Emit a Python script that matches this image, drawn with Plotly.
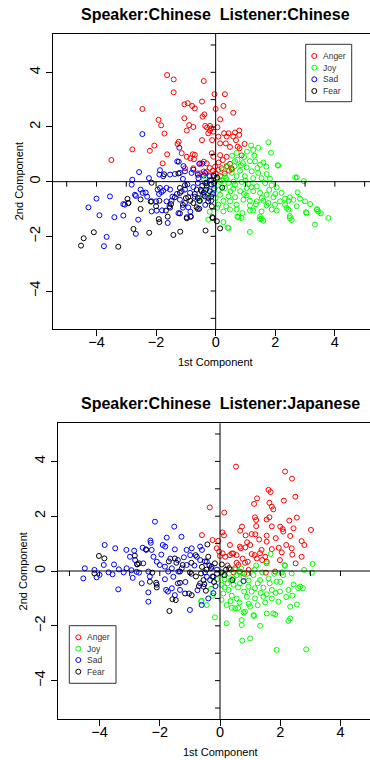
import plotly.graph_objects as go

W, H = 370, 760
FONT = "Liberation Sans, Arial, Helvetica, sans-serif"

categories = ["Anger", "Joy", "Sad", "Fear"]
colors = ["#FF0000", "#00FF00", "#0000FF", "#000000"]
titles = ["Speaker:Chinese\u00a0 Listener:Chinese", "Speaker:Chinese\u00a0 Listener:Japanese"]
x_title = "1st Component"
y_title = "2nd Component"
tick_values = [-4, -2, 0, 2, 4]
center_ticks = list(range(-5, 6))

# ---------------- Panel 1: Speaker Chinese / Listener Chinese ----------------
cc_anger = [(-1.63,3.90),(-1.41,3.74),(-0.40,3.68),(-1.41,3.27),(-0.04,3.20),(0.31,3.20),(-0.46,2.93),(-0.94,2.87),
(-1.05,2.83),(-0.79,2.77),(-0.70,2.68),(0.26,2.77),(-2.46,2.66),(0.00,2.66),(0.59,2.52),(-0.38,2.46),(-0.44,2.38),
(-1.05,2.32),(0.15,2.28),(-1.92,2.26),(-1.83,2.06),(-0.89,2.07),(-0.75,2.00),(-0.35,2.04),(-0.29,1.98),(-0.19,2.04),
(-0.15,1.95),(0.06,1.99),(-0.08,1.83),(-1.72,1.76),(-0.97,1.87),(-0.25,1.77),(-0.19,1.87),(0.28,1.77),(0.43,1.77),
(0.37,1.65),(0.65,1.80),(0.79,1.87),(0.79,1.71),(0.59,1.65),(0.09,1.65),(-0.46,1.52),(-0.12,1.52),(0.68,1.52),
(-2.80,1.18),(-2.06,1.32),(-2.21,1.13),(-1.24,1.46),(-1.28,1.38),(0.15,1.40),(0.34,1.40),(0.48,1.27),(0.74,1.28),
(0.80,1.22),(0.97,1.38),(-3.50,0.79),(-1.63,1.00),(-1.78,0.67),(-1.14,1.04),(-0.97,0.91),(-0.77,1.00),(-0.70,0.98),
(-0.73,0.82),(-0.85,0.85),(-1.03,0.49),(-0.75,0.49),(-0.52,0.67),(-0.40,0.73),(-0.30,0.67),(-0.13,1.04),(-0.08,0.91),
(0.15,0.97),(0.24,0.79),(0.37,0.91),(0.48,0.65),(0.37,0.57),(0.53,0.49),(0.87,0.96),(-0.30,0.37),(-0.08,0.24),
(-0.52,0.30),(-0.40,0.37),(0.09,0.43),(0.20,0.49),(-0.02,0.55),(0.55,0.45),(0.45,0.40),(0.00,0.30),(-0.20,0.50),
(-0.10,0.40),(0.10,0.70),(-0.60,0.30),(0.30,0.30),(0.15,0.20)]

cc_joy = [(0.73,0.80),(0.91,0.68),(1.32,0.74),(1.49,0.62),(2.08,0.60),(1.04,0.52),(0.63,0.56),
(0.82,0.40),(0.54,0.32),(1.21,0.38),(1.43,0.32),(1.71,0.28),(0.70,0.20),(0.98,0.20),(1.26,0.13),(1.54,0.13),
(0.31,0.20),(2.72,0.16),(1.82,0.11),(0.15,-0.01),(0.43,-0.05),(0.65,-0.11),(0.87,-0.01),(1.10,-0.09),(1.38,-0.17),
(1.66,-0.05),(1.88,-0.13),(2.05,-0.21),(1.04,-0.23),(0.59,-0.26),(0.31,-0.23),(0.82,-0.35),(1.26,-0.35),(1.49,-0.41),
(1.71,-0.48),(2.21,-0.41),(2.75,-0.39),(0.15,-0.48),(0.43,-0.54),(0.65,-0.57),(1.04,-0.50),(1.94,-0.57),(2.33,-0.62),
(2.49,-0.57),(0.26,-0.70),(0.48,-0.72),(0.93,-0.66),(1.15,-0.70),(1.38,-0.72),(1.60,-0.70),(1.77,-0.78),(2.16,-0.72),
(2.44,-0.70),(2.61,-0.66),(2.83,-0.62),(3.00,-0.72),(0.09,-0.84),(0.70,-0.84),(1.15,-0.87),(1.35,-0.82),(1.71,-0.87),
(1.99,-0.84),(2.33,-0.84),(2.72,-0.90),(3.17,-0.82),(0.26,-1.09),(0.48,-1.02),(0.70,-1.02),(1.15,-1.06),(1.26,-1.06),
(1.54,-1.09),(1.88,-1.02),(2.05,-1.06),(2.38,-0.96),(2.44,-1.02),(3.05,-1.15),(3.39,-1.02),(3.44,-1.09),(0.76,-1.30),
(0.87,-1.33),(1.49,-1.27),(1.54,-1.35),(1.60,-1.43),(2.49,-1.33),(2.55,-1.40),(3.78,-1.33),(3.33,-1.57),(-0.25,-1.39),
(0.26,-1.48),(0.43,-1.70),(1.15,-1.84),(0.55,0.95),(0.70,1.05),(0.95,0.90),(1.15,0.75),(1.30,0.95),(1.05,1.10),
(0.65,0.75),(0.40,0.55),(0.25,0.45),(1.60,0.70),(1.70,0.55),(1.40,0.50),(0.85,0.60),(0.05,0.10),(0.20,0.05),
(0.35,0.12),(-0.05,-0.15),(0.10,-0.30),(-0.15,-0.45),(0.00,-0.60),(-0.30,-0.20),(-0.40,0.10),(-0.55,-0.60),
(-0.20,-1.10),(0.05,-0.95),(1.19,1.32),(1.43,1.24),(1.77,1.44),(1.26,1.16),(1.86,1.06),(2.10,0.59),(2.67,0.15),
(2.96,0.02),(3.41,-1.01),(3.53,-1.16),(3.03,-1.12),(2.49,-1.26),(1.49,-1.37),(0.73,-1.28),(0.40,-1.68),
(0.50,-0.35),(0.95,-0.45),(1.20,-0.20),(1.80,-0.30),(0.35,-0.90),(0.60,0.00),(1.00,0.05),(1.55,-0.60),(2.00,-0.45),
(0.90,-1.15)]

cc_sad = [(-2.46,1.74),(-1.22,1.24),(-1.24,0.73),(-1.08,0.57),(-1.29,0.74),(-2.57,0.35),(-2.24,0.13),(-2.80,0.07),
(-2.82,-0.11),(-1.87,0.42),(-1.89,0.26),(-1.76,0.20),(-1.53,0.26),(-1.37,0.28),(-1.20,0.32),(-1.03,0.38),(-0.75,0.44),
(-0.81,0.32),(-0.55,0.65),(-0.45,0.66),(-0.60,0.25),(-0.40,0.22),(-0.35,0.32),(-0.58,0.13),(-0.20,0.05),(-0.15,-0.10),
(-0.30,-0.05),(-0.45,-0.15),(-0.60,-0.05),(-0.75,-0.20),(-2.52,-0.29),(-2.45,-0.41),(-2.71,-0.48),(-2.68,-0.52),
(-3.10,-0.82),(-3.05,-0.84),(-2.93,-0.78),(-3.55,-0.54),(-4.00,-0.62),(-4.27,-0.94),(-3.90,-1.23),(-3.40,-1.30),
(-3.10,-1.24),(-2.60,-1.39),(-2.68,-1.91),(-3.66,-2.02),(-3.75,-2.36),(-1.95,-0.29),(-1.87,-0.23),(-1.76,-0.33),
(-1.65,-0.23),(-1.53,-0.29),(-1.90,-0.45),(-1.82,-0.38),(-2.15,-0.72),(-2.00,-0.72),(-1.65,-0.72),(-1.48,-0.70),
(-2.15,-1.09),(-1.98,-1.06),(-1.61,-1.51),(-1.20,-0.66),(-1.03,-0.78),(-0.92,-0.94),(-0.97,-1.30),(-0.85,-1.28),
(-1.14,-0.35),(-1.03,-0.29),(-0.86,-0.41),(-0.64,-0.29),(-0.48,-0.35),(-0.32,-0.29),(-0.42,-0.48),(-0.25,-0.60),
(-0.10,-0.45),(-0.55,-0.70),(-0.70,-0.55),(-1.30,-0.45),(-1.45,-0.55),(-1.10,-0.95),(-0.85,-1.10),(-1.25,-1.15),
(-0.60,-1.00),(-0.35,-0.85),(-1.55,-0.90),(-1.80,-1.05),(-2.30,-0.55),(-2.35,-0.40),(-0.95,-0.10),(-1.10,0.10),
(-0.05,-0.25),(-0.15,-0.70),(-0.20,0.20)]

cc_fear = [(-2.15,-0.04),(-1.73,0.27),(-1.25,0.30),(-2.96,-0.63),(-2.93,-0.78),(-2.52,-0.65),(-2.52,-1.00),
(-2.18,-0.73),(-2.23,-1.87),(-2.76,-1.73),(-3.27,-2.38),(-4.09,-1.85),(-4.43,-2.07),(-4.52,-2.34),(-1.42,-1.95),
(-1.19,-1.83),(-0.34,-1.79),(0.04,-1.45),(0.15,-1.71),(0.22,-0.22),(-0.06,0.21),(-0.11,-1.30),(-1.91,-1.37),
(-1.89,-1.48),(-1.61,-1.28),(-1.50,-0.82),(-1.53,-0.95),(-1.20,-1.16),(-0.97,-1.34),(-0.83,-1.28),(-0.55,-0.99),
(-1.89,-0.70),(-1.67,-1.06),(-1.37,-0.57),(-1.20,-0.41),(-1.20,-0.23),(-1.03,-0.13),(-0.92,-0.57),(-0.75,-0.78),
(-0.64,-0.94),(-0.53,-0.70),(-0.36,-0.54),(-0.25,-0.72),(-0.13,-0.90),(-0.10,-1.33),(-0.50,-0.30),(-0.70,-0.45),
(-0.30,-0.15),(-0.15,0.05),(-0.05,-0.05),(-0.20,-0.35),(-0.40,-0.40),(-1.00,-0.60),(-1.10,-0.85),(-0.85,-0.70),
(0.05,0.15),(-0.15,-0.55),(-0.60,-0.60),(-2.00,-0.90),(-0.35,-0.05)]

# ---------------- Panel 2: Speaker Chinese / Listener Japanese ----------------
cj_anger = [(0.53,3.81),(2.16,3.63),(2.39,3.37),(2.50,2.71),(1.61,2.96),(1.68,2.88),(2.12,2.57),(1.23,2.65),
(1.13,2.45),(1.64,2.49),(1.72,2.35),(1.77,2.25),(-0.34,2.32),(0.14,2.13),(1.16,1.96),(1.20,1.86),(1.55,1.88),
(1.64,1.96),(1.20,1.64),(0.73,1.62),(0.67,1.47),(1.72,1.63),(2.00,1.62),(2.08,1.53),(2.10,1.44),(2.30,1.84),
(2.44,1.56),(3.02,1.50),(2.33,1.28),(1.05,1.35),(1.17,1.34),(0.85,1.30),(1.55,1.29),(1.55,1.07),(-0.60,1.31),
(-0.25,1.13),(0.08,1.41),(0.13,1.30),(-0.06,1.10),(0.33,0.95),(0.66,0.89),(0.69,0.83),(0.84,0.86),(-0.11,0.83),
(2.71,1.09),(2.80,0.95),(2.38,0.83),(2.71,0.52),(2.51,0.28),(2.05,0.68),(1.72,0.80),(1.38,0.77),(1.33,0.65),
(1.22,0.46),(1.50,0.52),(1.05,0.62),(1.15,0.58),(0.92,0.34),(0.83,0.30),(0.44,0.64),(0.55,0.58),(0.33,0.58),
(0.39,0.64),(0.09,0.64),(0.17,0.52),(0.55,0.30),(0.61,0.22),(0.50,0.10),(0.66,-0.02),(0.95,0.04),(1.55,0.34),
(1.83,-0.02),(1.52,-0.06),(1.99,0.40),(-0.03,0.71),(0.00,0.55),(0.45,-0.05),(0.35,0.05),(0.75,0.45),(1.00,0.95),
(1.30,1.15),(0.90,1.05),(1.40,0.40),(0.25,0.20),(0.80,-0.10),(2.40,0.60),(2.20,0.95),(1.85,1.20),(1.95,0.85),
(2.55,1.95)]

cj_joy = [(2.16,0.19),(2.38,-0.09),(2.79,0.04),(3.05,-0.06),(3.07,0.26),(2.14,0.22),(2.05,-0.05),(1.68,0.62),
(1.55,0.28),(0.44,-0.27),(0.78,-0.21),(1.11,-0.15),(1.33,-0.33),(1.61,-0.27),(1.88,-0.39),(2.10,-0.15),(2.44,-0.49),
(2.60,-0.63),(2.75,-0.63),(2.66,-0.57),(0.66,-0.45),(0.94,-0.57),(1.16,-0.63),(1.44,-0.61),(1.72,-0.69),(1.99,-0.75),
(2.27,-0.69),(0.28,-0.69),(0.11,-0.82),(0.39,-0.90),(0.55,-1.00),(0.89,-0.94),(1.16,-1.00),(1.44,-0.94),(1.72,-1.00),
(1.94,-1.12),(2.33,-1.30),(2.55,-1.22),(0.22,-1.24),(0.39,-1.34),(0.50,-1.36),(0.78,-1.51),(1.11,-1.61),(1.55,-1.55),
(1.83,-1.58),(1.77,-1.55),(2.27,-1.82),(2.33,-1.73),(0.72,-1.79),(0.22,-1.91),(0.72,-1.97),(1.33,-2.00),(1.00,-2.46),
(0.74,-2.54),(1.88,-2.88),(2.86,-2.86),(-0.17,-1.69),(-0.61,-1.09),(-0.63,-1.11),(-0.44,-1.24),(0.83,-1.48),
(1.13,-1.64),(0.30,-0.10),(0.15,-0.30),(0.55,-0.15),(0.65,-0.05),(0.95,-0.35),(1.25,-0.45),(1.05,-0.75),(0.80,-0.75),
(0.60,-0.60),(0.45,-0.50),(0.25,-0.45),(0.05,-0.50),(0.15,-0.60),(0.35,-1.10),(0.65,-1.15),(0.95,-1.20),(1.25,-1.25),
(1.35,-0.80),(1.55,-0.85),(1.65,-0.45),(0.90,-0.10),(1.15,0.05),(1.40,-0.05),(1.80,-0.10),(0.50,0.05),(0.70,0.10),
(0.35,-0.35),(-0.30,-0.65),(-0.10,-0.30),(-0.25,-0.90),(0.05,-1.05),(1.20,0.20),(0.60,-1.35),(1.00,-1.30),
(2.00,-0.40),(2.20,-0.95),(1.50,-1.15),(0.10,-0.15),(1.85,-0.80),(2.40,-0.90)]

cj_sad = [(-2.16,1.80),(-1.52,1.62),(-1.28,1.25),(-1.77,1.22),(-2.31,1.11),(-2.30,1.03),(-3.83,0.95),(-3.48,0.83),
(-3.11,0.77),(-2.85,0.74),(-2.57,0.85),(-2.45,0.77),(-1.82,0.89),(-1.50,0.79),(-1.11,0.77),(-0.94,0.83),(-0.66,0.89),
(-0.60,0.77),(-4.49,0.10),(-4.54,-0.27),(-4.17,0.04),(-4.10,-0.23),(-4.00,-0.14),(-3.57,-0.12),(-3.38,-0.67),
(-3.86,0.22),(-3.52,0.24),(-3.36,0.06),(-3.10,0.10),(-2.94,0.03),(-2.77,-0.03),(-2.69,-0.06),(-2.99,0.52),
(-2.82,0.40),(-2.55,0.28),(-2.38,-0.02),(-2.33,-0.20),(-2.38,-0.78),(-2.38,-1.12),(-1.83,-0.30),(-1.79,-0.69),
(-1.73,-0.75),(-1.60,-0.63),(-1.50,-0.88),(-1.00,-1.42),(-1.03,-0.82),(-1.33,-0.69),(-0.61,-1.24),(-0.39,-1.00),
(-0.22,-0.81),(-0.66,-0.45),(-0.55,-0.57),(-0.44,-0.21),(-0.33,-0.33),(-0.22,-0.21),(-0.28,0.16),(-0.44,0.34),
(-0.66,0.40),(-0.77,0.52),(-0.99,0.58),(-1.11,0.22),(-1.27,0.10),(-1.38,-0.02),(-1.55,-0.21),(-1.72,-0.02),
(-1.83,0.16),(-2.00,0.22),(-2.10,0.34),(-2.21,0.52),(-2.27,0.77),(-1.95,0.60),(-1.65,0.45),(-1.40,0.40),(-1.20,0.50),
(-0.85,0.20),(-0.95,-0.10),(-1.15,-0.40),(-1.40,-0.45),(-2.10,-0.50),(-2.60,-0.45),(-2.90,-0.25),(-3.20,-0.05),
(-0.15,-0.55),(-0.10,0.05),(-0.75,-0.70),(0.78,-0.37),(-1.90,0.95),(-2.75,0.25),(-3.70,-0.05),(-0.50,-0.05),
(-1.60,0.10)]

cj_fear = [(-4.02,0.55),(-3.84,0.46),(-4.17,-0.09),(-2.83,0.56),(-2.69,0.28),(-2.75,0.24),(-2.46,0.79),(-2.33,-0.39),
(-2.12,-0.43),(-2.10,-0.60),(-2.25,-0.06),(-1.68,-1.46),(-1.58,-1.03),(-1.47,-1.06),(-1.50,0.46),(-1.33,-0.02),
(-1.33,-0.43),(-1.24,0.22),(-1.16,-0.82),(-0.94,-0.88),(-0.81,0.58),(-0.42,0.97),(-0.39,0.52),(-0.50,0.35),
(-0.63,-0.09),(-0.55,-0.33),(-0.52,-0.48),(-0.47,-0.72),(-0.30,0.10),(-0.17,0.28),(0.06,0.24),(0.30,0.10),
(0.41,-0.33),(0.20,0.05),(0.05,-0.05),(-0.10,-0.10),(-0.25,-0.20),(-0.35,0.20),(-0.60,0.15),(-0.80,-0.20),
(-1.00,-0.05),(-0.20,-0.40),(0.15,-0.15),(-1.45,0.30),(-1.70,0.35),(-0.70,-0.55),(-0.45,0.05),(-0.95,0.30)]

panel_data = [[cc_anger, cc_joy, cc_sad, cc_fear], [cj_anger, cj_joy, cj_sad, cj_fear]]

# ---------------- layout geometry (page pixels) ----------------
panels = [
    dict(left=53.0, top=33.5, bottom=329.0, xr=[-5.46, 5.18], yr=[-5.39, 5.42],
         title_y=14.5, xt_y=362.0, yt_x=19.0,
         leg_box=(305.7, 44.3, 351.7, 101.7), leg_mx=314.3, leg_tx=321.0,
         leg_rows=[56.0, 67.7, 79.3, 91.0]),
    dict(left=57.7, top=423.3, bottom=719.0, xr=[-5.39, 4.98], yr=[-5.40, 5.39],
         title_y=403.5, xt_y=751.5, yt_x=23.3,
         leg_box=(69.3, 625.7, 116.0, 683.3), leg_mx=78.3, leg_tx=85.0,
         leg_rows=[637.3, 648.7, 660.0, 671.7]),
]

fig = go.Figure()
annotations = []
shapes = []
axis_font = dict(family=FONT, size=14.5, color="black")

for i, (p, data) in enumerate(zip(panels, panel_data)):
    n = "" if i == 0 else str(i + 1)
    xa, ya = "x" + n, "y" + n
    for cat, col, pts in zip(categories, colors, data):
        fig.add_trace(go.Scatter(
            x=[q[0] for q in pts], y=[q[1] for q in pts], mode="markers", name=cat,
            xaxis=xa, yaxis=ya, showlegend=False, hoverinfo="skip",
            marker=dict(symbol="circle-open", size=5, color=col, line=dict(width=1, color=col))))
    xdom = [p["left"] / W, 1.0]
    ydom = [1 - p["bottom"] / H, 1 - p["top"] / H]
    common = dict(showgrid=False, zeroline=False, showline=True, linecolor="black", linewidth=1,
                  ticks="outside", ticklen=6, tickwidth=1, tickcolor="black",
                  tickvals=tick_values, tickfont=axis_font, automargin=False)
    fig.update_layout(**{
        ("xaxis" + n): dict(domain=xdom, range=p["xr"], anchor=ya, mirror=True,
                            ticklabelstandoff=-6, **common),
        ("yaxis" + n): dict(domain=ydom, range=p["yr"], anchor=xa, tickangle=-90,
                            ticklabelstandoff=0, **common),
    })
    px_per_x = (W - p["left"]) / (p["xr"][1] - p["xr"][0])
    px_per_y = (p["bottom"] - p["top"]) / (p["yr"][1] - p["yr"][0])
    tdx, tdy = 5 / px_per_x, 5 / px_per_y
    line = dict(color="black", width=1)
    shapes.append(dict(type="line", xref=xa, yref=ya + " domain", x0=0, x1=0, y0=0, y1=1, line=line))
    shapes.append(dict(type="line", xref=xa + " domain", yref=ya, x0=0, x1=1, y0=0, y1=0, line=line))
    for k in center_ticks:
        shapes.append(dict(type="line", xref=xa, yref=ya, x0=-tdx, x1=0, y0=k, y1=k, line=line))
        shapes.append(dict(type="line", xref=xa, yref=ya, x0=k, x1=k, y0=0, y1=-tdy, line=line))
    cx = p["left"] + (0 - p["xr"][0]) * px_per_x
    cy = (p["top"] + p["bottom"]) / 2
    annotations.append(dict(xref="x3", yref="y3", x=cx, y=p["title_y"], text="<b>" + titles[i] + "</b>",
                            showarrow=False, xanchor="center", yanchor="middle",
                            font=dict(family=FONT, size=16, color="black")))
    annotations.append(dict(xref="x3", yref="y3", x=cx, y=p["xt_y"], text=x_title, showarrow=False,
                            xanchor="center", yanchor="middle", font=dict(family=FONT, size=11, color="black")))
    annotations.append(dict(xref="x3", yref="y3", x=p["yt_x"], y=cy, text=y_title, showarrow=False,
                            textangle=-90, xanchor="center", yanchor="middle",
                            font=dict(family=FONT, size=11, color="black")))
    x0, y0, x1, y1 = p["leg_box"]
    shapes.append(dict(type="rect", xref="x3", yref="y3", x0=x0, x1=x1, y0=y0, y1=y1,
                       line=dict(color="#333333", width=1), fillcolor="rgba(255,255,255,0)", layer="above"))
    fig.add_trace(go.Scatter(
        x=[p["leg_mx"]] * len(categories), y=p["leg_rows"], mode="markers", xaxis="x3", yaxis="y3",
        showlegend=False, hoverinfo="skip",
        marker=dict(symbol="circle-open", size=5, color=colors, line=dict(width=1, color=colors))))
    for cat, yy in zip(categories, p["leg_rows"]):
        annotations.append(dict(xref="x3", yref="y3", x=p["leg_tx"], y=yy, text=cat, showarrow=False,
                                xanchor="left", yanchor="middle",
                                font=dict(family=FONT, size=8.5, color="#333333")))

fig.update_layout(
    xaxis3=dict(domain=[0, 1], range=[0, W], anchor="y3", visible=False, fixedrange=True),
    yaxis3=dict(domain=[0, 1], range=[H, 0], anchor="x3", visible=False, fixedrange=True),
    width=W, height=H, margin=dict(l=0, r=0, t=0, b=0, pad=0),
    paper_bgcolor="white", plot_bgcolor="rgba(0,0,0,0)",
    showlegend=False, annotations=annotations, shapes=shapes,
    font=dict(family=FONT, color="black"),
)

fig.write_html("out.html", config={"displayModeBar": False, "staticPlot": True},
               post_script="document.body.style.margin='0';document.body.style.overflow='hidden';")
